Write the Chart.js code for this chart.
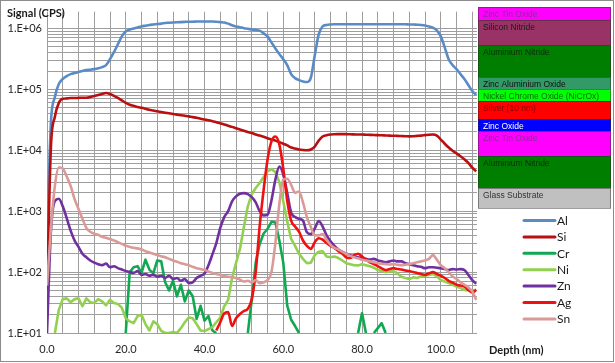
<!DOCTYPE html>
<html>
<head>
<meta charset="utf-8">
<script src="https://cdn.jsdelivr.net/npm/chart.js@4.4.1/dist/chart.umd.min.js"></script>
<style>
  html, body { margin: 0; padding: 0; background: #ffffff; }
  #wrap { width: 615px; height: 363px; }
</style>
</head>
<body>
<div id="wrap"><canvas id="c" width="615" height="363"></canvas></div>
<script>
// ---- Data (depth in nm, signal in CPS) ----
const depth = [0,1,2,3,4,5,6,7,8,9,10,11,12,13,14,15,16,17,18,19,20,21,22,23,24,25,26,27,28,29,30,31,32,33,34,35,36,37,38,39,40,41,42,43,44,45,46,47,48,49,50,51,52,53,54,55,56,57,58,59,60,61,62,63,64,65,66,67,68,69,70,71,72,73,74,75,76,77,78,79,80,81,82,83,84,85,86,87,88,89,90,91,92,93,94,95,96,97,98,99,100,101,102,103,104,105,106,107,108,109];

const seriesNames = ['Al','Si','Cr','Ni','Zn','Ag','Sn'];

const al = [300,2.9e4,7.5e4,1.22e5,1.48e5,1.65e5,1.78e5,1.85e5,1.92e5,2.0e5,2.07e5,2.1e5,2.15e5,2.22e5,2.32e5,2.5e5,3.13e5,4.07e5,5.5e5,7.4e5,8.9e5,9.6e5,1.0e6,1.04e6,1.08e6,1.11e6,1.14e6,1.16e6,1.18e6,1.2e6,1.23e6,1.24e6,1.25e6,1.26e6,1.27e6,1.28e6,1.29e6,1.29e6,1.3e6,1.3e6,1.3e6,1.3e6,1.3e6,1.29e6,1.27e6,1.25e6,1.2e6,1.13e6,1.08e6,1.05e6,1.01e6,9.9e5,9.6e5,9.4e5,9.2e5,8.3e5,7.4e5,5.9e5,4.7e5,3.8e5,3.13e5,2.5e5,1.78e5,1.53e5,1.42e5,1.35e5,1.32e5,1.55e5,3.6e5,8.0e5,1.08e6,1.14e6,1.16e6,1.17e6,1.17e6,1.17e6,1.17e6,1.17e6,1.17e6,1.17e6,1.17e6,1.17e6,1.17e6,1.17e6,1.17e6,1.17e6,1.17e6,1.17e6,1.17e6,1.17e6,1.17e6,1.17e6,1.16e6,1.16e6,1.15e6,1.14e6,1.12e6,1.08e6,1.03e6,9.3e5,7.4e5,4.9e5,3.13e5,2.5e5,2.15e5,1.78e5,1.48e5,1.18e5,9.4e4,8.1e4];

const si = [50,1.15e4,3.55e4,6.0e4,7.0e4,7.1e4,7.2e4,7.2e4,7.25e4,7.3e4,7.3e4,7.5e4,7.8e4,8.1e4,8.4e4,8.7e4,8.4e4,7.8e4,7.25e4,6.6e4,6.0e4,5.6e4,5.37e4,5.15e4,4.98e4,4.8e4,4.62e4,4.5e4,4.37e4,4.25e4,4.13e4,4.05e4,3.95e4,3.85e4,3.76e4,3.68e4,3.6e4,3.5e4,3.42e4,3.3e4,3.2e4,3.1e4,3.0e4,2.88e4,2.77e4,2.65e4,2.53e4,2.42e4,2.3e4,2.2e4,2.1e4,2.0e4,1.92e4,1.82e4,1.74e4,1.66e4,1.58e4,1.5e4,1.44e4,1.36e4,1.28e4,1.2e4,1.11e4,1.07e4,1.03e4,1.01e4,1.0e4,1.03e4,1.15e4,1.44e4,1.68e4,1.76e4,1.81e4,1.83e4,1.84e4,1.84e4,1.84e4,1.83e4,1.82e4,1.81e4,1.81e4,1.8e4,1.79e4,1.78e4,1.77e4,1.76e4,1.75e4,1.74e4,1.73e4,1.72e4,1.71e4,1.7e4,1.69e4,1.7e4,1.72e4,1.74e4,1.77e4,1.8e4,1.81e4,1.74e4,1.5e4,1.28e4,1.11e4,9.8e3,8.9e3,8.0e3,7.1e3,6.2e3,5.2e3,4.5e3];

const cr = [null,null,null,null,null,null,null,null,null,null,null,null,null,null,null,null,null,null,null,null,10,100,120,125,97,160,110,95,155,150,68,50,72,40,62,33,50,40,17,28,16,19,11,10,null,null,null,null,null,null,null,10,35,143,290,430,510,670,650,330,143,28.5,16.5,13,10,null,null,null,null,null,null,null,null,null,null,null,null,null,null,10,21,10,null,10,12,14.5,10,null,null,null,null,null,null,null,null,null,null,null,null,null,null,null,null,null,null,null,null,null];

const ni = [null,null,10,24,36,37,32,36,37,27.5,37,32,31,36,33,28.5,35,31,30,26,17.5,15.5,14.5,19,20,14,11,15.5,14,10.8,10,10,10.4,10,12,15,18,17.5,14,11,10.8,11.6,12.5,15,18,27.5,35,80,140,240,550,1200,1900,2400,2900,3600,4500,4900,4400,3000,1450,680,350,270,200,165,140,143,190,215,220,180,175,180,170,155,140,135,130,128,135,130,125,118,108,104,100,102,104,95,84,80,77,82,80,85,87,90,93,85,74,70,66,62,58,55,51,50,50,51];

const zn = [10,480,1470,1600,1200,770,480,330,260,200,175,155,143,135,130,138,120,125,116,110,104,100,97,104,90,93,87,90,84,87,80,87,77,80,72,77,66,68,80,87,95,130,195,300,530,800,1000,1450,1750,1930,1980,1900,1700,1400,1000,850,870,1500,3300,5400,4000,2000,950,800,750,700,450,420,520,690,560,400,320,270,235,215,200,190,180,175,170,165,160,165,155,150,145,150,155,150,150,140,135,130,125,122,116,120,120,118,116,112,108,112,110,112,108,90,74,64];

const ag = [null,null,null,null,null,null,null,null,null,null,null,null,null,null,null,null,null,null,null,null,null,null,null,null,null,null,null,null,null,null,null,null,null,null,null,null,null,null,null,null,null,null,null,11,15,21,22,13,17.5,20.5,23,25,36,100,560,2200,7000,14000,16800,12500,5000,1500,700,560,460,330,270,240,310,360,340,300,270,250,220,200,175,170,190,200,180,160,145,135,125,115,108,112,116,112,110,106,104,100,97,93,90,95,100,93,87,80,72,67,62,60,58,51,46,51];

const sn = [60,530,2600,5200,5000,3700,2600,1580,1090,750,530,460,425,410,380,365,350,330,310,290,270,260,250,245,235,220,210,200,190,182,175,165,155,148,140,135,130,122,116,112,108,102,97,93,90,86,84,82,80,75,70,72,68,74,66,68,74,100,300,1300,3300,3400,2700,2000,2100,1400,800,550,400,400,420,340,280,250,235,215,200,185,175,168,160,155,150,145,140,137,135,133,135,132,130,132,135,140,145,150,155,165,190,160,130,116,100,85,77,68,62,56,48,35];

// ---- Axis ticks ----
const xGridTicks = [0,4,8,12,16,20,24,28,32,36,40,44,48,52,56,60,64,68,72,76,80,84,88,92,96,100,104,108];
const xTickValues = [0,20,40,60,80,100];
const xTickLabels = ['0.0','20.0','40.0','60.0','80.0','100.0'];
const yDecades = [1e1,1e2,1e3,1e4,1e5,1e6];
const yTickLabels = ['1.E+01','1.E+02','1.E+03','1.E+04','1.E+05','1.E+06'];

// ---- Layer stack annotation ----
const layerNames = ['Zinc Tin Oxide','Silicon Nitride','Aluminium Nitride','Zinc Aluminium Oxide','Nickel Chrome Oxide (NiCrOx)','Silver (10 nm)','Zinc Oxide','Zinc Tin Oxide','Aluminium Nitride','Glass Substrate'];

// styles
const seriesColors = ['#5B8BC7','#B81010','#10A850','#92D050','#7030A0','#F01010','#D99A98'];
const seriesSmooth = [true, true, false, false, true, true, true];
const layerFill = ['#FF00FF','#993366','#007E00','#339966','#00FF00','#FF0000','#0000FF','#FF00FF','#007E00','#C0C0C0'];
const layerText = ['#8A2A9A','#1A1A1A','#0A300A','#111111','#0A6A0A','#8A0000','#FFFFFF','#8A2A9A','#0A300A','#333333'];
const layerEdges = [7,20,45,77,89,101,119,131,156,188,208];

// minor log ticks for the grid
const yGridTicks = [];
for (let e = 1; e <= 6; e++) {
  const base = Math.pow(10, e);
  yGridTicks.push(base);
  if (e < 6) for (let m = 2; m <= 9; m++) yGridTicks.push(m * base);
}

const FONT = 'Lato, "Liberation Sans", sans-serif';

const decorPlugin = {
  id: 'decor',
  afterDraw(chart) {
    const ctx = chart.ctx;
    ctx.save();
    // layer panel
    const px0 = 478, px1 = 611;
    for (let i = 0; i < layerNames.length; i++) {
      const t = layerEdges[i], b = layerEdges[i + 1];
      ctx.fillStyle = layerFill[i];
      ctx.fillRect(px0, t, px1 - px0, b - t);
      ctx.strokeStyle = 'rgba(40,40,40,0.45)';
      ctx.lineWidth = 1;
      ctx.strokeRect(px0 + 0.5, t + 0.5, px1 - px0 - 1, b - t);
      ctx.fillStyle = layerText[i];
      ctx.font = '8.5px "Liberation Sans", Arial, sans-serif';
      ctx.textAlign = 'left';
      ctx.textBaseline = 'middle';
      ctx.fillText(layerNames[i], px0 + 5, t + 7.5);
    }
    // series legend
    const lx0 = 524, lx1 = 555;
    chart.data.datasets.forEach((ds, i) => {
      const y = 220.5 + i * 16.4;
      ctx.strokeStyle = ds.borderColor;
      ctx.lineWidth = 3;
      ctx.lineCap = 'round';
      ctx.beginPath();
      ctx.moveTo(lx0, y);
      ctx.lineTo(lx1, y);
      ctx.stroke();
      ctx.fillStyle = '#1a1a1a';
      ctx.font = '12px ' + FONT;
      ctx.textAlign = 'left';
      ctx.textBaseline = 'middle';
      ctx.fillText(ds.label, lx1 + 2, y + 0.5);
    });
    // axis titles
    ctx.fillStyle = '#1a1a1a';
    ctx.font = 'bold 11px ' + FONT;
    ctx.textAlign = 'left';
    ctx.textBaseline = 'middle';
    ctx.fillText('Signal (CPS)', 7, 13.5);
    ctx.fillText('Depth (nm)', 489, 350);
    // outer border
    ctx.strokeStyle = '#8C8C8C';
    ctx.lineWidth = 1;
    ctx.strokeRect(0.5, 0.5, 613, 361);
    ctx.restore();
  }
};

const datasets = [al, si, cr, ni, zn, ag, sn].map((arr, i) => ({
  label: seriesNames[i],
  data: arr.map((v, k) => ({ x: depth[k], y: v })),
  borderColor: seriesColors[i],
  backgroundColor: seriesColors[i],
  borderWidth: 2.6,
  pointRadius: 0,
  cubicInterpolationMode: seriesSmooth[i] ? 'monotone' : 'default',
  tension: seriesSmooth[i] ? 0.4 : 0,
  borderJoinStyle: 'round',
  spanGaps: false,
  fill: false,
  order: 7 - i
}));

new Chart(document.getElementById('c'), {
  type: 'line',
  data: { datasets },
  plugins: [decorPlugin],
  options: {
    responsive: false,
    animation: false,
    events: [],
    layout: { padding: { left: 0, right: 138, top: 9, bottom: 0 } },
    plugins: { legend: { display: false }, tooltip: { enabled: false } },
    scales: {
      x: {
        type: 'linear', min: 0, max: 109.2,
        afterBuildTicks: s => { s.ticks = xGridTicks.map(v => ({ value: v })); },
        afterFit: s => { s.height = 30; },
        ticks: {
          autoSkip: false, maxRotation: 0, padding: 10,
          color: '#262626', font: { family: FONT, size: 11 },
          callback: v => { const i = xTickValues.indexOf(v); return i >= 0 ? xTickLabels[i] : ''; }
        },
        grid: { color: '#9E9E9E', lineWidth: 1, drawTicks: false },
        border: { display: false }
      },
      y: {
        type: 'logarithmic', min: 10, max: 1.89e6,
        afterBuildTicks: s => { s.ticks = yGridTicks.map(v => ({ value: v })); },
        afterFit: s => { s.width = 47; },
        ticks: {
          autoSkip: false, padding: 5,
          color: '#262626', font: { family: FONT, size: 11 },
          callback: v => { const i = yDecades.indexOf(v); return i >= 0 ? yTickLabels[i] : ''; }
        },
        grid: { color: '#9E9E9E', lineWidth: 1, drawTicks: false },
        border: { display: false }
      }
    }
  }
});
</script>
</body>
</html>
